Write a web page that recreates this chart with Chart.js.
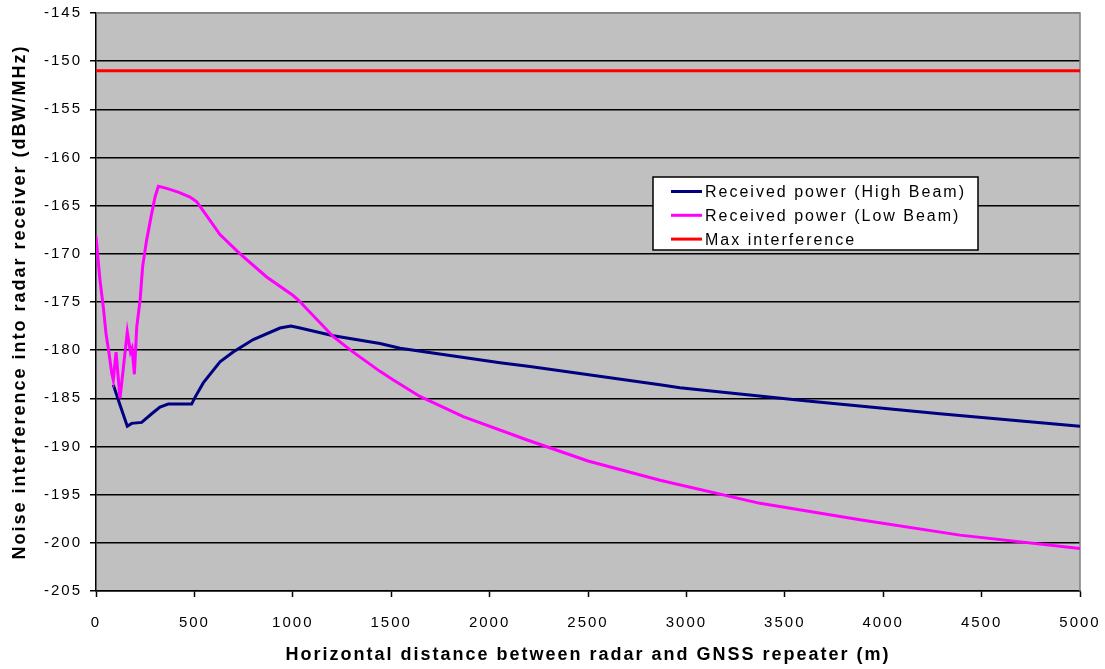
<!DOCTYPE html>
<html>
<head>
<meta charset="utf-8">
<title>Noise interference into radar receiver</title>
<script src="https://cdn.jsdelivr.net/npm/chart.js@4.4.0/dist/chart.umd.min.js"></script>
<style>
  html, body { margin: 0; padding: 0; background: #fff; }
</style>
</head>
<body>
<canvas id="chart" width="1105" height="669"></canvas>
<script>
'use strict';

// horizontal distance (m) and received power (dBW/MHz)
const highBeamDist  = [88, 122, 159, 181, 232, 283, 325, 367, 486, 503, 545, 630, 697, 799, 935, 990, 1037, 1206, 1443, 1545, 2053, 2205, 2866, 2967, 3577, 4288, 5000];
const highBeamPower = [-183.6, -185.7, -187.9, -187.6, -187.5, -186.6, -185.9, -185.6, -185.6, -184.9, -183.4, -181.2, -180.2, -178.9, -177.7, -177.5, -177.7, -178.5, -179.3, -179.8, -181.3, -181.7, -183.6, -183.9, -185.2, -186.6, -187.9];

const lowBeamDist  = [0, 20, 37, 51, 66, 80, 88, 102, 122, 159, 175, 183, 195, 207, 224, 237, 257, 283, 300, 317, 359, 418, 478, 512, 554, 630, 732, 867, 1000, 1028, 1206, 1300, 1443, 1511, 1646, 1866, 2188, 2500, 2866, 3374, 3882, 4390, 5000];
const lowBeamPower = [-168.2, -172.7, -175.5, -178.3, -180.3, -182.4, -183.1, -180.2, -185.0, -178.1, -180.2, -179.8, -182.5, -177.6, -174.8, -171.3, -168.6, -165.8, -164.1, -163.0, -163.2, -163.6, -164.1, -164.6, -165.8, -168.0, -170.0, -172.4, -174.3, -174.8, -178.6, -180.1, -182.2, -183.1, -184.8, -186.9, -189.3, -191.5, -193.5, -195.9, -197.6, -199.2, -200.6];

const maxDist  = [0, 5000];
const maxPower = [-151, -151];

const seriesNames  = ['Received power (High Beam)', 'Received power (Low Beam)', 'Max interference'];
const seriesColors = ['#000080', '#ff00ff', '#ff0000'];

const yMin = -205, yMax = -145, yStep = 5;
const xMin = 0, xMax = 5000, xStep = 500;

const FONT = '"Liberation Sans", Arial, sans-serif';

function toPoints(xs, ys) {
  return xs.map((x, i) => ({ x: x, y: ys[i] }));
}

// wide text + grey plot area with grey top/right frame
const plotStyle = {
  id: 'plotStyle',
  beforeLayout(chart) {
    chart.ctx.letterSpacing = '2px';
  },
  beforeDraw(chart) {
    const ctx = chart.ctx, a = chart.chartArea;
    ctx.letterSpacing = '2px';
    ctx.save();
    ctx.fillStyle = '#c0c0c0';
    ctx.fillRect(a.left, a.top, a.right - a.left, a.bottom - a.top);
    ctx.restore();
  },
  beforeDatasetsDraw(chart) {
    const ctx = chart.ctx, a = chart.chartArea;
    ctx.save();
    ctx.strokeStyle = '#808080';
    ctx.lineWidth = 1.5;
    ctx.beginPath();
    ctx.moveTo(a.left, a.top);
    ctx.lineTo(a.right, a.top);
    ctx.lineTo(a.right, a.bottom);
    ctx.stroke();
    ctx.restore();
  }
};

// boxed legend inside the plot
const boxLegend = {
  id: 'boxLegend',
  afterDatasetsDraw(chart) {
    const ctx = chart.ctx;
    const x = 653, y = 177, w = 325, h = 73;
    ctx.save();
    ctx.fillStyle = '#fff';
    ctx.fillRect(x, y, w, h);
    ctx.strokeStyle = '#000';
    ctx.lineWidth = 1.5;
    ctx.strokeRect(x, y, w, h);
    ctx.font = '16px ' + FONT;
    ctx.letterSpacing = '2px';
    ctx.textBaseline = 'middle';
    ctx.fillStyle = '#000';
    chart.data.datasets.forEach((ds, i) => {
      const cy = y + 14.5 + i * 23.8;
      ctx.strokeStyle = ds.borderColor;
      ctx.lineWidth = 3;
      ctx.beginPath();
      ctx.moveTo(671, cy);
      ctx.lineTo(702, cy);
      ctx.stroke();
      ctx.fillText(ds.label, 705, cy + 1);
    });
    ctx.restore();
  }
};

new Chart(document.getElementById('chart'), {
  type: 'line',
  data: {
    datasets: [{
      label: seriesNames[0],
      data: toPoints(highBeamDist, highBeamPower),
      borderColor: seriesColors[0],
      order: 3
    }, {
      label: seriesNames[1],
      data: toPoints(lowBeamDist, lowBeamPower),
      borderColor: seriesColors[1],
      order: 2
    }, {
      label: seriesNames[2],
      data: toPoints(maxDist, maxPower),
      borderColor: seriesColors[2],
      order: 1
    }]
  },
  options: {
    responsive: false,
    animation: false,
    events: [],
    layout: { padding: { left: 0, right: 25, top: 13, bottom: 0 } },
    elements: {
      line: { borderWidth: 3, tension: 0, fill: false },
      point: { radius: 0 }
    },
    plugins: {
      legend: { display: false },
      tooltip: { enabled: false }
    },
    scales: {
      x: {
        type: 'linear',
        min: xMin,
        max: xMax,
        afterFit(scale) {
          scale.height = 78;
          scale.paddingLeft = 0;
          scale.paddingRight = 0;
        },
        ticks: {
          stepSize: xStep,
          color: '#000',
          padding: 17,
          maxRotation: 0,
          callback: (v) => String(v),
          font: { family: FONT, size: 15 }
        },
        grid: {
          drawOnChartArea: false,
          tickLength: 6,
          tickColor: '#000',
          tickWidth: 1.5
        },
        border: { color: '#000', width: 1.5 },
        title: {
          display: true,
          text: 'Horizontal distance between radar and GNSS repeater (m)',
          color: '#000',
          padding: { top: 0, bottom: 3 },
          font: { family: FONT, size: 18, weight: 'bold' }
        }
      },
      y: {
        min: yMin,
        max: yMax,
        afterFit(scale) {
          scale.width = 96;
          scale.paddingTop = 0;
          scale.paddingBottom = 0;
        },
        ticks: {
          stepSize: yStep,
          color: '#000',
          padding: 8,
          callback: (v) => String(v),
          font: { family: FONT, size: 15 }
        },
        grid: {
          color: (c) => (c.tick && c.tick.value === yMax ? '#808080' : '#000'),
          lineWidth: 1.5,
          tickLength: 6,
          tickColor: '#000',
          tickWidth: 1.5
        },
        border: { color: '#000', width: 1.5 },
        title: {
          display: true,
          text: 'Noise interference into radar receiver (dBW/MHz)',
          color: '#000',
          padding: { top: 9, bottom: 0 },
          font: { family: FONT, size: 18, weight: 'bold' }
        }
      }
    }
  },
  plugins: [plotStyle, boxLegend]
});
</script>
</body>
</html>
